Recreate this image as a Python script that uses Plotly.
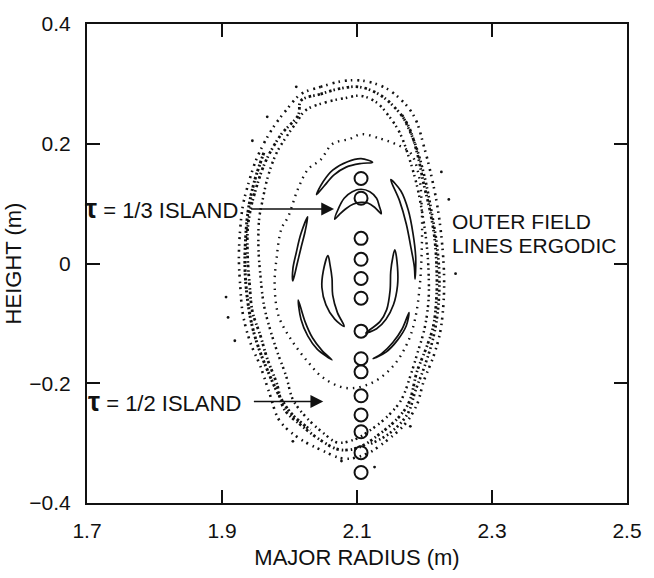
import plotly.graph_objects as go

# ---- Poincaré section data (major radius R [m], height Z [m]) ----

# Flux-surface centres of the magnetic axis scan (open circles)
circle_r = [2.106] * 14
circle_z = [0.142, 0.109, 0.042, 0.007, -0.025, -0.058, -0.113,
            -0.159, -0.181, -0.221, -0.253, -0.281, -0.316, -0.349]

# Outer ergodic band: outer edge, centre and inner edge tracks
band_outer_r = [2.017, 2.046, 2.081, 2.110, 2.139, 2.163, 2.185, 2.200, 2.212, 2.220,
                2.226, 2.229, 2.228, 2.223, 2.213, 2.199, 2.189, 2.172, 2.146, 2.114,
                2.081, 2.046, 2.013, 1.985, 1.971, 1.957, 1.942, 1.931, 1.927, 1.925,
                1.927, 1.931, 1.938, 1.952, 1.974, 1.995, 2.017]
band_outer_z = [0.283, 0.295, 0.305, 0.305, 0.295, 0.276, 0.245, 0.192, 0.137, 0.089,
                0.034, -0.021, -0.069, -0.116, -0.156, -0.196, -0.235, -0.267, -0.294, -0.318,
                -0.326, -0.311, -0.291, -0.262, -0.219, -0.172, -0.132, -0.085, -0.037, 0.010,
                0.058, 0.097, 0.129, 0.177, 0.224, 0.256, 0.283]

band_mid_r = [2.017, 2.046, 2.074, 2.103, 2.132, 2.153, 2.175, 2.189, 2.199, 2.208,
              2.215, 2.218, 2.218, 2.213, 2.203, 2.189, 2.177, 2.160, 2.132, 2.103,
              2.074, 2.046, 2.017, 1.992, 1.981, 1.967, 1.957, 1.945, 1.941, 1.938,
              1.938, 1.942, 1.948, 1.964, 1.988, 2.013, 2.017]
band_mid_z = [0.272, 0.283, 0.292, 0.295, 0.283, 0.264, 0.232, 0.185, 0.132, 0.089,
              0.042, -0.006, -0.053, -0.105, -0.140, -0.180, -0.232, -0.259, -0.286, -0.307,
              -0.311, -0.295, -0.270, -0.243, -0.200, -0.159, -0.121, -0.080, -0.037, 0.010,
              0.058, 0.089, 0.116, 0.169, 0.216, 0.248, 0.272]

band_inner_r = [2.024, 2.053, 2.081, 2.106, 2.129, 2.146, 2.163, 2.177, 2.189, 2.197,
                2.203, 2.206, 2.206, 2.200, 2.190, 2.179, 2.166, 2.149, 2.124, 2.096,
                2.071, 2.050, 2.024, 2.005, 1.995, 1.982, 1.971, 1.962, 1.957, 1.954,
                1.955, 1.960, 1.968, 1.981, 1.998, 2.010, 2.024]
band_inner_z = [0.256, 0.269, 0.276, 0.280, 0.269, 0.248, 0.219, 0.177, 0.129, 0.082,
                0.034, -0.013, -0.061, -0.109, -0.148, -0.188, -0.227, -0.251, -0.275, -0.294,
                -0.299, -0.283, -0.256, -0.227, -0.188, -0.148, -0.109, -0.069, -0.021, 0.026,
                0.074, 0.105, 0.145, 0.185, 0.216, 0.235, 0.256]

# Denser flanks of the band (left and right sides)
flank_left_r = [1.962, 1.948, 1.939, 1.935, 1.934, 1.937, 1.944, 1.954, 1.968, 1.984,
                2.003, 2.031]
flank_left_z = [0.185, 0.137, 0.090, 0.042, -0.006, -0.053, -0.101, -0.140, -0.180,
                -0.219, -0.251, -0.278]
flank_right_r = [2.167, 2.186, 2.200, 2.210, 2.218, 2.222, 2.220, 2.213, 2.200, 2.187,
                 2.175, 2.149, 2.117]
flank_right_z = [0.248, 0.200, 0.145, 0.089, 0.034, -0.021, -0.077, -0.124, -0.172,
                 -0.211, -0.251, -0.283, -0.303]

# Isolated field-line punctures outside the band
stray_r = [1.945, 1.967, 2.010, 1.906, 1.909, 1.919, 2.077, 2.126, 2.005, 2.179,
           2.225, 2.236, 2.246]
stray_z = [0.205, 0.245, 0.295, -0.056, -0.090, -0.129, -0.330, -0.340, -0.297, -0.272,
           0.153, 0.107, -0.017]

# Last intact surface (sparse dotted ring)
ring_r = [2.107, 2.136, 2.156, 2.179, 2.192, 2.196, 2.196, 2.193, 2.186, 2.175,
          2.153, 2.121, 2.084, 2.050, 2.027, 2.003, 1.984, 1.978, 1.981, 1.988,
          1.998, 2.013, 2.028, 2.046, 2.064, 2.089, 2.107]
ring_z = [0.216, 0.208, 0.200, 0.185, 0.145, 0.089, 0.026, -0.037, -0.093, -0.132,
          -0.172, -0.200, -0.208, -0.191, -0.164, -0.128, -0.088, -0.037, 0.010, 0.058,
          0.078, 0.126, 0.158, 0.173, 0.200, 0.208, 0.216]

# Island chain crescents (closed contours)
islands = {
    "upper left": (
        [2.040, 2.050, 2.064, 2.086, 2.106, 2.123, 2.106, 2.084, 2.066, 2.051, 2.040],
        [0.115, 0.137, 0.156, 0.170, 0.175, 0.169, 0.167, 0.161, 0.148, 0.129, 0.115]),
    "tau 1/3": (
        [2.067, 2.073, 2.081, 2.093, 2.106, 2.119, 2.129, 2.133, 2.136,
         2.126, 2.116, 2.106, 2.094, 2.083, 2.074, 2.067],
        [0.074, 0.093, 0.109, 0.120, 0.124, 0.120, 0.109, 0.096, 0.083,
         0.094, 0.101, 0.102, 0.099, 0.091, 0.082, 0.074]),
    "upper right": (
        [2.150, 2.163, 2.173, 2.180, 2.185, 2.186, 2.187, 2.183, 2.176, 2.165, 2.150],
        [0.140, 0.105, 0.066, 0.026, -0.006, -0.026, 0.010, 0.050, 0.089, 0.121, 0.140]),
    "mid left": (
        [2.027, 2.017, 2.010, 2.005, 2.005, 2.011, 2.017, 2.023, 2.027],
        [0.078, 0.050, 0.018, -0.009, -0.029, -0.002, 0.026, 0.053, 0.078]),
    "centre left": (
        [2.057, 2.050, 2.048, 2.054, 2.067, 2.081, 2.071, 2.064, 2.063, 2.060, 2.057],
        [0.013, -0.013, -0.040, -0.069, -0.093, -0.105, -0.082, -0.053, -0.025, -0.002, 0.013]),
    "centre right": (
        [2.156, 2.160, 2.160, 2.154, 2.143, 2.129, 2.113, 2.134, 2.144, 2.149, 2.150, 2.153, 2.156],
        [0.023, -0.006, -0.037, -0.069, -0.093, -0.109, -0.116, -0.097, -0.077, -0.045, -0.013, 0.010, 0.023]),
    "lower left": (
        [2.013, 2.017, 2.027, 2.041, 2.063, 2.048, 2.034, 2.023, 2.013],
        [-0.061, -0.093, -0.121, -0.143, -0.161, -0.145, -0.124, -0.097, -0.061]),
    "lower right": (
        [2.177, 2.167, 2.153, 2.136, 2.124, 2.143, 2.160, 2.173, 2.177],
        [-0.082, -0.109, -0.132, -0.151, -0.159, -0.148, -0.128, -0.104, -0.082]),
}

INK = "#111111"
FONT = "Liberation Sans, Arial, Helvetica, sans-serif"

fig = go.Figure()

# ergodic band drawn as dotted tracks
dotted_tracks = [
    (band_outer_r, band_outer_z, "2px,4px,1.5px,5px", 2.6),
    (band_mid_r, band_mid_z, "2.5px,2px,1.5px,3px", 2.8),
    (band_inner_r, band_inner_z, "1.5px,4px,2px,3px", 2.5),
    (flank_left_r, flank_left_z, "2.5px,1.5px,2px,2.5px", 3.0),
    (flank_right_r, flank_right_z, "2px,2.5px,1.5px,3px", 2.7),
]
for rr, zz, dash, w in dotted_tracks:
    fig.add_trace(go.Scatter(x=rr, y=zz, mode="lines", line_shape="spline",
                             line=dict(color=INK, width=w, dash=dash),
                             hoverinfo="skip", showlegend=False))

fig.add_trace(go.Scatter(x=ring_r, y=ring_z, mode="lines", line_shape="spline",
                         line=dict(color=INK, width=2.4, dash="1.5px,5px"),
                         hoverinfo="skip", showlegend=False))

fig.add_trace(go.Scatter(x=stray_r, y=stray_z, mode="markers",
                         marker=dict(color=INK, size=2.8),
                         hoverinfo="skip", showlegend=False))

for name, (rr, zz) in islands.items():
    fig.add_trace(go.Scatter(x=rr, y=zz, mode="lines", line_shape="spline",
                             line=dict(color=INK, width=1.7), name=name,
                             hoverinfo="skip", showlegend=False))

fig.add_trace(go.Scatter(x=circle_r, y=circle_z, mode="markers",
                         marker=dict(symbol="circle-open", size=13, color=INK,
                                     line=dict(width=2, color=INK)),
                         hoverinfo="skip", showlegend=False))

# annotations
label_font = dict(family=FONT, size=22, color=INK)
tau_13_z = 0.091
tau_12_z = -0.2305
fig.add_annotation(x=2.066, y=tau_13_z, ax=1.941, ay=tau_13_z, axref="x", ayref="y",
                   text="", showarrow=True, arrowhead=2, arrowsize=1.6, arrowwidth=1.6,
                   arrowcolor=INK)
fig.add_annotation(x=1.927, y=tau_13_z,
                   text="<span style='font-size:27px'><b>τ</b></span> = 1/3 ISLAND",
                   showarrow=False, xanchor="right", yanchor="middle", font=label_font)
fig.add_annotation(x=2.050, y=tau_12_z, ax=1.945, ay=tau_12_z, axref="x", ayref="y",
                   text="", showarrow=True, arrowhead=2, arrowsize=1.6, arrowwidth=1.6,
                   arrowcolor=INK)
fig.add_annotation(x=1.931, y=tau_12_z,
                   text="<span style='font-size:27px'><b>τ</b></span> = 1/2 ISLAND",
                   showarrow=False, xanchor="right", yanchor="middle", font=label_font)
outer_font = dict(family=FONT, size=21, color=INK)
fig.add_annotation(x=2.239, y=0.0697, text="OUTER FIELD", showarrow=False,
                   xanchor="left", yanchor="middle", borderpad=0, font=outer_font)
fig.add_annotation(x=2.239, y=0.0301, text="LINES ERGODIC", showarrow=False,
                   xanchor="left", yanchor="middle", borderpad=0, font=outer_font)

axis_common = dict(showgrid=False, zeroline=False, showline=True, linecolor=INK,
                   linewidth=2, mirror="ticks", ticks="inside", ticklen=13,
                   tickwidth=1.6, tickcolor=INK,
                   tickfont=dict(family=FONT, size=21, color=INK))

fig.update_xaxes(range=[1.7, 2.5], tickvals=[1.7, 1.9, 2.1, 2.3, 2.5],
                 ticktext=["1.7", "1.9", "2.1", "2.3", "2.5"],
                 title=dict(text="MAJOR RADIUS (m)", font=dict(family=FONT, size=22, color=INK),
                            standoff=8),
                 ticklabelstandoff=8, **axis_common)
fig.update_yaxes(range=[-0.4, 0.4], tickvals=[-0.4, -0.2, 0, 0.2, 0.4],
                 ticktext=["\u22120.4", "\u22120.2", "0", "0.2", "0.4"],
                 title=dict(text="HEIGHT (m)", font=dict(family=FONT, size=22, color=INK),
                            standoff=2),
                 ticklabelstandoff=10, **axis_common)

fig.update_layout(width=654, height=578, paper_bgcolor="white", plot_bgcolor="white",
                  margin=dict(l=79, r=17, t=14, b=59), showlegend=False)

fig.write_html("out.html")
